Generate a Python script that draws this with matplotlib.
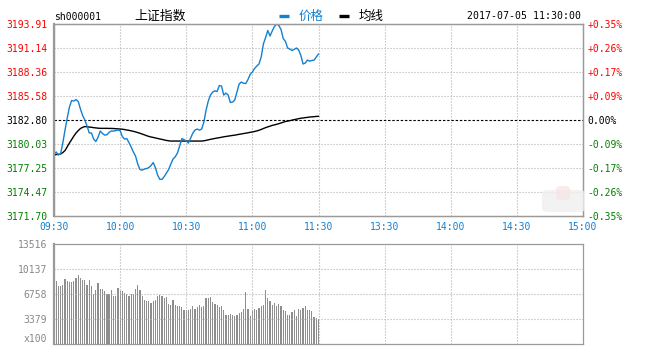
import numpy as np
import matplotlib
matplotlib.use("Agg")
import matplotlib.pyplot as plt
from matplotlib.lines import Line2D
from matplotlib.patches import FancyBboxPatch
from matplotlib.transforms import ScaledTranslation

# ---- data -------------------------------------------------------------
code = "sh000001"
name = "上证指数"
stamp = "2017-07-05 11:30:00"
pre_close = 3182.80

price = [
    3178.87, 3179.10, 3178.75, 3178.92, 3180.14, 3181.64, 3183.03, 3184.30, 3185.06, 3185.00,
    3185.17, 3184.94, 3184.07, 3183.32, 3182.80, 3182.11, 3181.30, 3181.30, 3180.60, 3180.31,
    3180.83, 3181.53, 3181.24, 3181.06, 3181.09, 3181.38, 3181.53, 3181.53, 3181.58, 3181.64,
    3181.58, 3180.89, 3180.60, 3180.66, 3180.20, 3179.68, 3179.10, 3178.63, 3177.71, 3177.07,
    3177.01, 3177.13, 3177.19, 3177.30, 3177.53, 3177.88, 3177.30, 3176.44, 3175.94, 3175.94,
    3176.26, 3176.67, 3177.07, 3177.71, 3178.29, 3178.55, 3178.98, 3179.79, 3180.66, 3180.54,
    3180.37, 3180.14, 3180.72, 3181.30, 3181.64, 3181.76, 3181.64, 3181.76, 3182.57, 3183.96,
    3185.00, 3185.69, 3186.04, 3186.18, 3186.10, 3186.79, 3186.73, 3185.69, 3185.92, 3185.69,
    3184.83, 3184.88, 3185.11, 3186.04, 3186.97, 3187.20, 3187.05, 3187.02, 3187.49, 3188.07,
    3188.36, 3188.76, 3189.05, 3189.28, 3190.09, 3191.60, 3192.35, 3193.16, 3192.52, 3193.10,
    3193.62, 3193.91, 3193.74, 3193.27, 3192.23, 3191.89, 3191.13, 3191.02, 3190.84, 3190.98,
    3191.13, 3190.90, 3190.27, 3189.28, 3189.40, 3189.74, 3189.61, 3189.69, 3189.74, 3190.09,
    3190.44,
]

avg_price = [
    3178.75, 3178.81, 3178.83, 3178.87, 3179.04, 3179.27, 3179.71, 3180.14, 3180.54, 3180.95,
    3181.30, 3181.58, 3181.82, 3181.96, 3182.05, 3182.02, 3181.99, 3181.96, 3181.92, 3181.89,
    3181.86, 3181.84, 3181.84, 3181.84, 3181.84, 3181.83, 3181.83, 3181.82, 3181.80, 3181.78,
    3181.76, 3181.74, 3181.70, 3181.65, 3181.61, 3181.55, 3181.49, 3181.43, 3181.35, 3181.27,
    3181.18, 3181.09, 3180.99, 3180.91, 3180.84, 3180.79, 3180.73, 3180.67, 3180.61, 3180.56,
    3180.50, 3180.44, 3180.40, 3180.37, 3180.37, 3180.37, 3180.37, 3180.37, 3180.37, 3180.37,
    3180.37, 3180.37, 3180.37, 3180.37, 3180.37, 3180.37, 3180.37, 3180.37, 3180.40, 3180.45,
    3180.51, 3180.57, 3180.62, 3180.67, 3180.72, 3180.76, 3180.81, 3180.86, 3180.90, 3180.94,
    3180.98, 3181.02, 3181.05, 3181.10, 3181.15, 3181.19, 3181.24, 3181.28, 3181.33, 3181.38,
    3181.42, 3181.48, 3181.54, 3181.62, 3181.71, 3181.82, 3181.92, 3182.01, 3182.09, 3182.18,
    3182.24, 3182.31, 3182.38, 3182.46, 3182.55, 3182.63, 3182.68, 3182.73, 3182.79, 3182.85,
    3182.90, 3182.96, 3183.01, 3183.04, 3183.08, 3183.11, 3183.15, 3183.17, 3183.19, 3183.22,
    3183.23,
]

# volume in lots of 100 shares, one bar per minute
volume = [
    8490, 7820, 7820, 8040, 8720, 8490, 8360, 8360, 8490, 8860,
    9260, 8950, 8630, 8630, 8040, 8630, 7900, 6820, 7360, 8180,
    7450, 7450, 7140, 6820, 6820, 7360, 6550, 6550, 7590, 7230,
    7140, 6910, 6780, 6550, 6780, 6780, 7450, 8040, 7360, 6550,
    6010, 5870, 5780, 5560, 5870, 6010, 6460, 6690, 6460, 6230,
    6320, 5470, 5330, 6010, 5330, 5190, 5190, 4970, 4650, 4650,
    4650, 4790, 5190, 4790, 4970, 5330, 4970, 5100, 6230, 6230,
    6370, 5690, 5470, 5330, 4970, 5100, 4650, 3880, 3970, 4110,
    3880, 3750, 3930, 4200, 4340, 4790, 7050, 4790, 3840, 4650,
    4790, 4560, 4880, 5100, 5330, 7360, 6230, 5870, 5330, 5560,
    5190, 5470, 5190, 4650, 4520, 3880, 3970, 4290, 4560, 3840,
    4790, 4650, 4880, 5190, 4650, 4650, 4520, 3660, 3520, 3390,
]

price_ticks = [3171.70, 3174.47, 3177.25, 3180.03, 3182.80, 3185.58, 3188.36, 3191.14, 3193.91]
pct_labels = ["-0.35%", "-0.26%", "-0.17%", "-0.09%", "0.00%", "+0.09%", "+0.17%", "+0.26%", "+0.35%"]
time_ticks = [0, 30, 60, 90, 120, 150, 180, 210, 240]
time_labels = ["09:30", "10:00", "10:30", "11:00", "11:30", "13:30", "14:00", "14:30", "15:00"]
vol_ticks = [0, 3379, 6758, 10137, 13516]
vol_labels = ["x100", "3379", "6758", "10137", "13516"]

# ---- style ------------------------------------------------------------
W, H = 650, 346
BLUE = "#1380d0"
RED = "#ff0000"
GREEN = "#008000"
FRAME = "#9a9a9a"
GRID = "#b0b0b0"
MONO = "DejaVu Sans Mono"
CJK = ["Noto Sans CJK SC", "DejaVu Sans"]
dotted = (0, (1, 1.7))


def fx(px):
    return px / W


def fy(py):
    return 1 - py / H


fig = plt.figure(figsize=(W / 100, H / 100), dpi=100, facecolor="white")

ax = fig.add_axes([fx(54), fy(216), fx(583) - fx(54), fy(24) - fy(216)])
axv = fig.add_axes([fx(54), fy(344), fx(583) - fx(54), fy(244) - fy(344)])

# ---- price pane -------------------------------------------------------
minutes = np.arange(len(price))
ax.set_xlim(0, 240)
ax.set_ylim(price_ticks[0], price_ticks[-1])

for t in time_ticks[1:-1]:
    ax.axvline(t, color=GRID, lw=0.8, ls=dotted, zorder=1)
for p in price_ticks[1:-1]:
    if abs(p - pre_close) < 1e-6:
        ax.axhline(p, color="black", lw=0.8, ls=(0, (2.2, 1.6)), zorder=1)
    else:
        ax.axhline(p, color=GRID, lw=0.8, ls=dotted, zorder=1)

ax.plot(minutes, avg_price, color="black", lw=1.0, zorder=3)
ax.plot(minutes, price, color=BLUE, lw=1.0, zorder=4)


def side_color(p):
    if p > pre_close + 1e-6:
        return RED
    if p < pre_close - 1e-6:
        return GREEN
    return "black"


ax.set_yticks(price_ticks)
ax.set_yticklabels([f"{p:.2f}" for p in price_ticks], fontfamily=MONO, fontsize=7)
for lbl, p in zip(ax.get_yticklabels(), price_ticks):
    lbl.set_color(side_color(p))

ax.set_xticks(time_ticks)
ax.set_xticklabels(time_labels, fontfamily=MONO, fontsize=7, color=BLUE)
ax.tick_params(axis="both", length=0)
ax.tick_params(axis="y", pad=5)
ax.tick_params(axis="x", pad=4)

axr = ax.twinx()
axr.set_ylim(ax.get_ylim())
axr.set_yticks(price_ticks)
axr.set_yticklabels(pct_labels, fontfamily=MONO, fontsize=7)
for lbl, p in zip(axr.get_yticklabels(), price_ticks):
    lbl.set_color(side_color(p))
axr.tick_params(axis="y", length=0, pad=3)

for a in (ax, axr):
    for s in a.spines.values():
        s.set_color(FRAME)
        s.set_linewidth(0.9)
ax.spines["left"].set_linewidth(1.6)

# ---- volume pane ------------------------------------------------------
bar_x = np.arange(1, len(volume) + 1)
axv.set_xlim(0, 240)
axv.set_ylim(0, vol_ticks[-1])
axv.bar(bar_x, volume, width=0.55, color="#8e8e8e", linewidth=0, zorder=2)
for t in time_ticks[1:-1]:
    axv.axvline(t, color=GRID, lw=0.8, ls=dotted, zorder=3)
for v in vol_ticks[1:-1]:
    axv.axhline(v, color=GRID, lw=0.8, ls=dotted, zorder=3)
axv.set_xticks([])
axv.set_yticks(vol_ticks)
axv.set_yticklabels(vol_labels, fontfamily=MONO, fontsize=7, color="#888888")
axv.tick_params(axis="y", length=0, pad=5)
# lift the unit label at the foot of the pane so it stays inside the canvas
unit_lbl = axv.get_yticklabels()[0]
unit_lbl.set_transform(unit_lbl.get_transform() + ScaledTranslation(0, 4 / 72, fig.dpi_scale_trans))
for s in axv.spines.values():
    s.set_color(FRAME)
    s.set_linewidth(0.9)
axv.spines["left"].set_linewidth(1.6)

# ---- header -----------------------------------------------------------
fig.text(fx(54), fy(16.5), code, fontfamily=MONO, fontsize=7, va="center", ha="left")
fig.text(fx(134), fy(16), name, fontfamily=CJK, fontsize=9.3, va="center", ha="left")
fig.add_artist(Line2D([fx(279), fx(289)], [fy(15.5), fy(15.5)], color=BLUE, lw=2.4,
                      solid_capstyle="butt"))
fig.text(fx(299), fy(16), "价格", fontfamily=CJK, fontsize=9, color=BLUE, va="center", ha="left")
fig.add_artist(Line2D([fx(339), fx(349)], [fy(15.5), fy(15.5)], color="black", lw=2.4,
                      solid_capstyle="butt"))
fig.text(fx(359), fy(16), "均线", fontfamily=CJK, fontsize=9, color="black", va="center", ha="left")
fig.text(fx(581), fy(16), stamp, fontfamily=MONO, fontsize=7.1, va="center", ha="right")

# faint logo mark in the lower right of the price pane
fig.add_artist(FancyBboxPatch((fx(542), fy(212)), fx(585) - fx(542), fy(190) - fy(212),
                              boxstyle="round,pad=0,rounding_size=0.01",
                              transform=fig.transFigure, facecolor="#efefef",
                              edgecolor="none", alpha=0.8, zorder=5))
fig.add_artist(FancyBboxPatch((fx(556), fy(200)), fx(570) - fx(556), fy(186) - fy(200),
                              boxstyle="round,pad=0,rounding_size=0.008",
                              transform=fig.transFigure, facecolor="#f7e6e6",
                              edgecolor="none", alpha=0.8, zorder=5))

fig.savefig("out.png", dpi=100, facecolor="white")
